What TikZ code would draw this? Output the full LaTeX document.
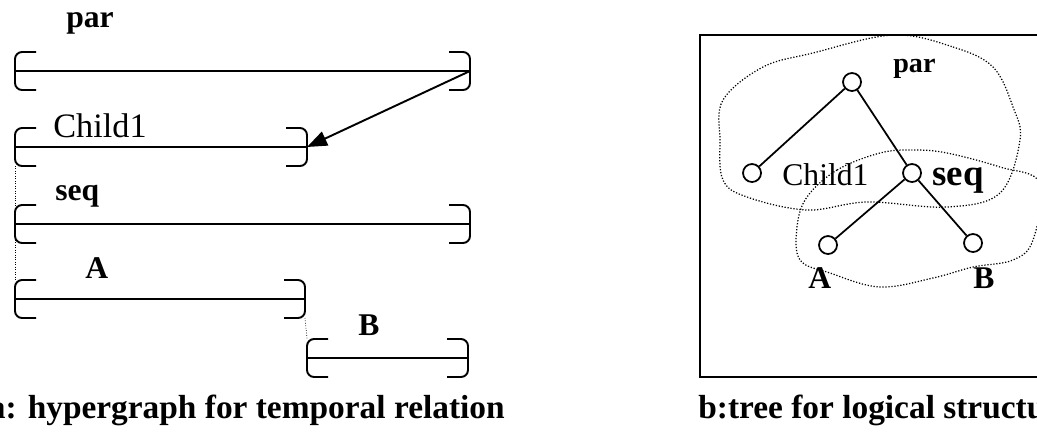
\documentclass[tikz,border=0pt]{standalone}
\usepackage{fontspec}
\setmainfont{Liberation Serif}
\usepackage{tikz}
\usetikzlibrary{positioning}
\usetikzlibrary{arrows.meta,shapes}
\usetikzlibrary{calc}
\tikzstyle{smallvertex}=[circle,draw,line width=1pt,minimum size=0.36cm,inner sep=0pt]
\tikzstyle{undirectededge} = [draw,line width=1pt]
\tikzstyle{interval} = [draw,line width=1.1pt]
\tikzstyle{hook} = [draw,line width=1.1pt,rounded corners=4pt]
\tikzstyle{edge} = [draw,line width=1.1pt,-{Triangle[length=0.4cm,width=0.3cm]}]
\tikzstyle{weight} = [font=\fontsize{18}{20}\selectfont,inner sep=0pt]
\tikzstyle{caption} = [font=\fontsize{19}{22}\selectfont\bfseries,inner sep=0pt]
\tikzstyle{cloudline} = [draw,densely dotted,line width=0.7pt]

\begin{document}
\begin{tikzpicture}[x=0.02cm,y=-0.02cm]

 \clip (0,0) rectangle (1037,440);

 %intervals
   \foreach \name/\l/\r/\y in {par/15/470/71, child/15/307/147, seq/15/470/224, a/15/305/299, b/307/468/358}
   {
     \coordinate (\name-l) at (\l,\y);
     \coordinate (\name-r) at (\r,\y);
     \path[interval] (\name-l) -- (\name-r);
     \path[hook] (\l+21,\y-19) -- (\l,\y-19) -- (\l,\y+19) -- (\l+21,\y+19);
     \path[hook] (\r-21,\y-19) -- (\r,\y-19) -- (\r,\y+19) -- (\r-21,\y+19);
   }

   \foreach \x/\y/\name/\label in {66/27/lpar/{\bfseries par}, 53/137/lchild/{\fontsize{19.5}{22}\selectfont Child1}, 55/200/lseq/{\bfseries seq}, 85/278/la/{\bfseries A}, 358/335/lb/{\bfseries B}}
          \node[weight,anchor=base west] (\name) at (\x,\y) {\label};

 \path[edge] (par-r) -- (child-r);

 \draw[densely dotted,thin] ($(child-l)+(0,19)$) -- ($(a-l)+(0,-19)$);
 \draw[densely dotted,thin] ($(a-r)+(0,19)$) -- ($(b-l)+(0,-19)$);

 \node[caption,anchor=base east] (capa) at (505,418) {a: hypergraph for temporal relation};

 %tree
 \draw[line width=1.3pt] (1100,35) -- (700,35) -- (700,377) -- (1100,377);

 \path[cloudline] plot[smooth cycle,tension=0.6] coordinates {(893,35) (953,47) (993,67) (1013,107) (1020,140) (1000,193) (947,207) (867,202) (807,210) (747,197) (723,180) (720,140) (723,100) (763,67) (813,53)};
 \path[cloudline] plot[smooth cycle,tension=0.6] coordinates {(880,153) (837,170) (807,197) (797,227) (800,260) (830,273) (880,287) (933,278) (973,267) (1013,260) (1033,240) (1040,183) (1000,167) (947,153) (913,150)};

   \foreach \x/\y/\name in {852/82/tpar, 752/173/tchild, 912/173/tseq, 828/245/ta, 973/243/tb}
          \node[smallvertex] (\name) at (\x,\y) {};

  \foreach \source/ \dest in {tpar/tchild, tpar/tseq, tseq/ta, tseq/tb}
         \path[undirectededge] (\source) -- (\dest);

   \foreach \x/\y/\name/\label in {893/72/rpar/{\fontsize{16}{18}\selectfont\bfseries par}, 782/185/rchild/Child1, 932/185/rseq/{\fontsize{21}{23}\selectfont\bfseries seq}, 808/288/ra/{\bfseries A}, 973/288/rb/{\bfseries B}}
          \node[weight,anchor=base west] (\name) at (\x,\y) {\label};

 \node[caption,anchor=base west] (capb) at (698,418) {b:tree for logical structure};

\end{tikzpicture}
\end{document}
